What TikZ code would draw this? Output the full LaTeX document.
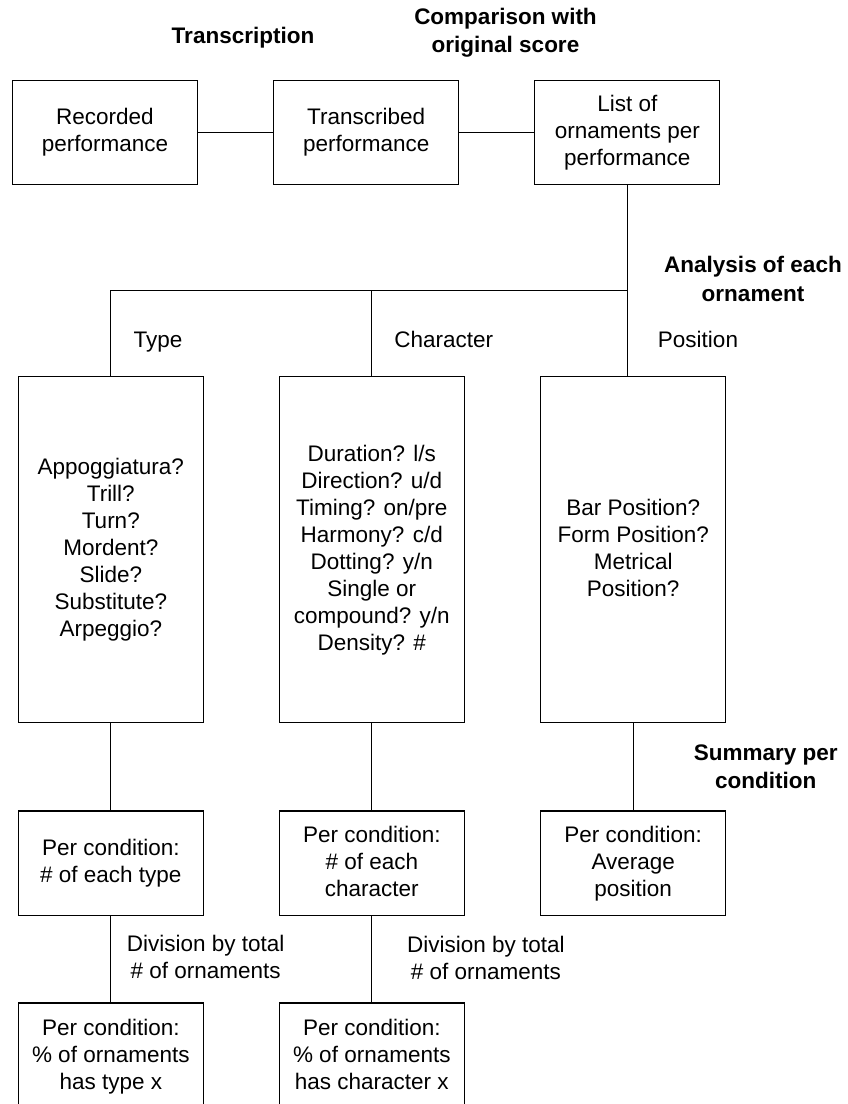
\documentclass[tikz,border=0pt]{standalone}
\usepackage{fontspec}
\setmainfont{Liberation Sans}

\newcommand\pstrut{\rule[-4.6pt]{0pt}{27pt}}

\tikzset{
  pbox/.style={draw, line width=1.3pt, inner sep=0pt, align=center, minimum width=185pt,
    font=\fontsize{22.5}{27}\selectfont,
    execute at begin node=\pstrut, execute at end node=\pstrut},
  head/.style={inner sep=0pt, align=center, font=\fontsize{22.5}{28.4}\selectfont\bfseries,
    execute at begin node=\pstrut, execute at end node=\pstrut},
  lbl/.style={inner sep=0pt, align=center, font=\fontsize{22.5}{27}\selectfont,
    execute at begin node=\pstrut, execute at end node=\pstrut},
  link/.style={line width=1pt}
}

\begin{document}
\begin{tikzpicture}[x=1pt,y=1pt,yscale=-1,xscale=1]
\useasboundingbox (0,0) rectangle (847,1104);

% Text Node
\node[head] (trn) at (243,35) {Transcription};
% Text Node
\node[head] (cmp) at (505.5,33) {Comparison with\\original score};

%Shape: Rectangle
\node[pbox, minimum height=103.6pt] (rec) at (105,132.5) {Recorded\\performance};
\node[pbox, minimum height=103.6pt] (trb) at (366.2,132.5) {Transcribed\\performance};
\node[pbox, minimum height=103.6pt] (lst) at (627.3,132.5) {List of\\ornaments per\\performance};

%Straight Lines
\draw[link] (rec.east) -- (trb.west);
\draw[link] (trb.east) -- (lst.west);

% Text Node
\node[head] (ana) at (753,281) {Analysis of each\\ornament};

% Text Node
\node[lbl] (ltyp) at (158,339) {Type};
\node[lbl] (lchr) at (443.7,339) {Character};
\node[lbl] (lpos) at (698,339) {Position};

%Shape: Rectangle
\node[pbox, minimum height=346pt] (typ) at (110.8,549.7)
  {Appoggiatura?\\Trill?\\Turn?\\Mordent?\\Slide?\\Substitute?\\Arpeggio?};
\node[pbox, minimum height=346pt] (chr) at (371.8,549.7)
  {Duration? l/s\\Direction? u/d\\Timing? on/pre\\Harmony? c/d\\Dotting? y/n\\Single or\\compound? y/n\\Density? \#};
\node[pbox, minimum height=346pt] (pos) at (633.2,549.7)
  {Bar Position?\\Form Position?\\Metrical\\Position?};

%Straight Lines
\coordinate (hub) at (0,290);
\draw[link] (lst.south) -- (lst.south |- pos.north);
\draw[link] (typ.north |- hub) -- (lst.south |- hub);
\draw[link] (typ.north |- hub) -- (typ.north);
\draw[link] (chr.north |- hub) -- (chr.north);

% Text Node
\node[head] (sum) at (765.7,769) {Summary per\\condition};

%Shape: Rectangle
\node[pbox, minimum height=104.3pt] (ntyp) at (110.8,863.2) {Per condition:\\\# of each type};
\node[pbox, minimum height=104.3pt] (nchr) at (371.8,863.2) {Per condition:\\\# of each\\character};
\node[pbox, minimum height=104.3pt] (npos) at (633.2,863.2) {Per condition:\\Average\\position};

%Straight Lines
\draw[link] (typ.south) -- (ntyp.north);
\draw[link] (chr.south) -- (nchr.north);
\draw[link] (pos.south) -- (npos.north);

% Text Node
\node[lbl] (dtyp) at (205.7,959) {Division by total\\\# of ornaments};
\node[lbl] (dchr) at (485.8,960.5) {Division by total\\\# of ornaments};

%Shape: Rectangle
\node[pbox, minimum height=108pt] (ptyp) at (110.8,1057) {Per condition:\\\% of ornaments\\has type x};
\node[pbox, minimum height=108pt] (pchr) at (371.8,1057) {Per condition:\\\% of ornaments\\has character x};

%Straight Lines
\draw[link] (ntyp.south) -- (ptyp.north);
\draw[link] (nchr.south) -- (pchr.north);

\end{tikzpicture}
\end{document}
